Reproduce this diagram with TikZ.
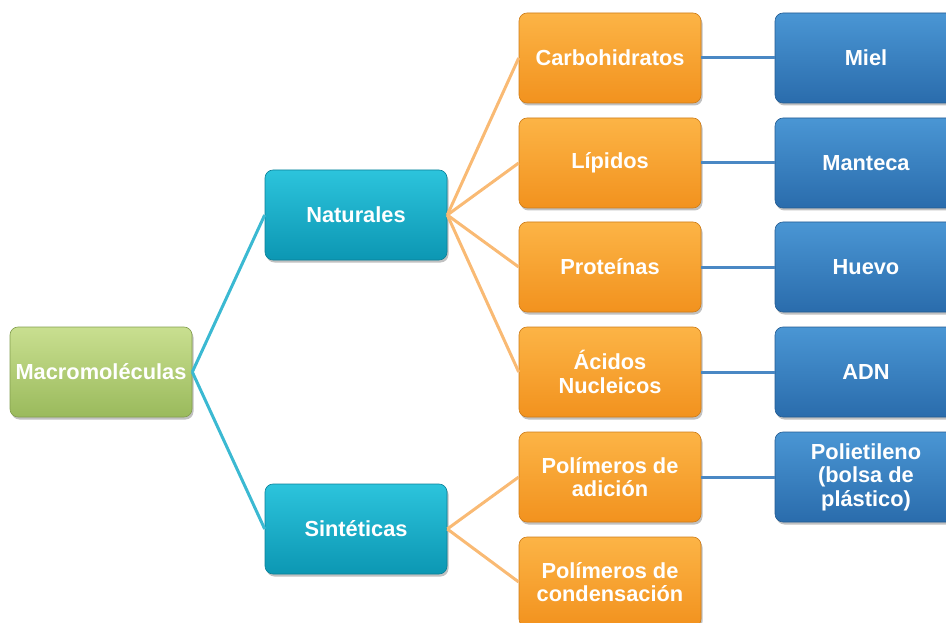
\documentclass[tikz,border=0pt]{standalone}
\usepackage{fontspec}
\setmainfont{Liberation Sans}
\usetikzlibrary{shadows}
\definecolor{gtop}{HTML}{C9DF90}
\definecolor{gbot}{HTML}{9ABA5C}
\definecolor{ttop}{HTML}{2CC4DC}
\definecolor{tbot}{HTML}{0C97B3}
\definecolor{otop}{HTML}{FCB446}
\definecolor{obot}{HTML}{F2921E}
\definecolor{btop}{HTML}{4A96D4}
\definecolor{bbot}{HTML}{2A6CAC}
\definecolor{tline}{HTML}{3BB9D2}
\definecolor{oline}{HTML}{F9BA74}
\definecolor{bline}{HTML}{4A88C4}
\tikzset{
  box/.style={rounded corners=8pt, minimum width=182pt, minimum height=90pt,
    inner sep=2pt, align=center, text=white,
    font=\bfseries\fontsize{21.8}{23.5}\selectfont,
    drop shadow={shadow xshift=1.5pt, shadow yshift=-2.5pt, opacity=0.35, fill=black!70}},
  gbox/.style={box, top color=gtop, bottom color=gbot, draw=gbot!85!black, line width=0.6pt},
  tbox/.style={box, top color=ttop, bottom color=tbot, draw=tbot!85!black, line width=0.6pt},
  obox/.style={box, top color=otop, bottom color=obot, draw=obot!85!black, line width=0.6pt},
  bbox/.style={box, top color=btop, bottom color=bbot, draw=bbot!85!black, line width=0.6pt},
  tcon/.style={draw=tline, line width=3pt},
  ocon/.style={draw=oline, line width=3pt},
  bcon/.style={draw=bline, line width=3pt},
}
\begin{document}
\begin{tikzpicture}[x=1pt,y=-1pt]
\useasboundingbox (0,0) rectangle (946,623);
\node[gbox] (m) at (101,372) {Macromoléculas};
\node[tbox] (nat) at (356,215) {Naturales};
\node[tbox] (sin) at (356,529) {Sintéticas};
\node[obox] (c1) at (610,58) {Carbohidratos};
\node[obox] (c2) at (610,163) {Lípidos};
\node[obox] (c3) at (610,267) {Proteínas};
\node[obox] (c4) at (610,372) {Ácidos\\Nucleicos};
\node[obox] (c5) at (610,477) {Polímeros de\\adición};
\node[obox] (c6) at (610,582) {Polímeros de\\condensación};
\node[bbox] (b1) at (866,58) {Miel};
\node[bbox] (b2) at (866,163) {Manteca};
\node[bbox] (b3) at (866,267) {Huevo};
\node[bbox] (b4) at (866,372) {ADN};
\node[bbox] (b5) at (866,477) {Polietileno\\(bolsa de\\plástico)};
\draw[tcon] (m.east) -- (nat.west);
\draw[tcon] (m.east) -- (sin.west);
\foreach \c in {c1,c2,c3,c4} \draw[ocon] (nat.east) -- (\c.west);
\foreach \c in {c5,c6} \draw[ocon] (sin.east) -- (\c.west);
\foreach \i in {1,...,5} \draw[bcon] (c\i.east) -- (b\i.west);
\end{tikzpicture}
\end{document}
